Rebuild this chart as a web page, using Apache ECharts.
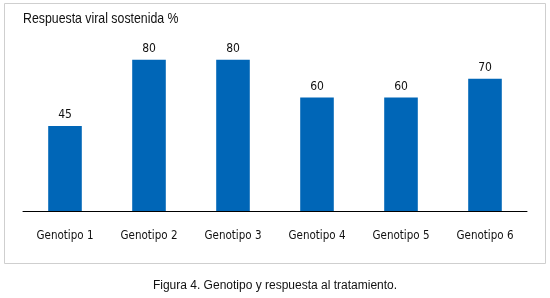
<!DOCTYPE html>
<html><head><meta charset="utf-8">
<script src="https://cdn.jsdelivr.net/npm/echarts@6/dist/echarts.min.js"></script>
<style>html,body{margin:0;padding:0;background:#fff}#c{width:550px;height:298px}</style>
</head><body><div id="c"></div>
<script>
const categories = ['Genotipo 1','Genotipo 2','Genotipo 3','Genotipo 4','Genotipo 5','Genotipo 6'];
const values = [45, 80, 80, 60, 60, 70];
const titleText = 'Respuesta viral sostenida %';
const captionText = 'Figura 4. Genotipo y respuesta al tratamiento.';
const FONT = '"Liberation Sans", Arial, sans-serif';
const chart = echarts.init(document.getElementById('c'));
chart.setOption({
  animation: false,
  graphic: [
    {type:'rect', shape:{x:4.5,y:3.5,width:541,height:260}, style:{fill:'none', stroke:'#cfcfcf', lineWidth:1}, z:-1},
    {type:'text', x:23, y:11, scaleX:0.85, style:{text:titleText, font:'14.5px '+FONT, fill:'#111'}},
    {type:'text', left:'center', top:280, style:{text:captionText, font:'12px '+FONT, fill:'#111'}}
  ],
  grid: {left:23, right:23, top:22, bottom:87},
  xAxis: {type:'category', data:categories,
    axisLine:{lineStyle:{color:'#000', width:1}}, axisTick:{show:false},
    axisLabel:{color:'#111', fontFamily:'DejaVu Sans Condensed', fontSize:11.5, margin:19}},
  yAxis: {type:'value', min:0, max:100, show:false, splitLine:{show:false}},
  series: [{type:'bar', data:values, barWidth:'40%', itemStyle:{color:'#0066b7'},
    label:{show:true, position:'top', distance:5, color:'#111', fontFamily:'DejaVu Sans Condensed', fontSize:12}}]
});
</script></body></html>
